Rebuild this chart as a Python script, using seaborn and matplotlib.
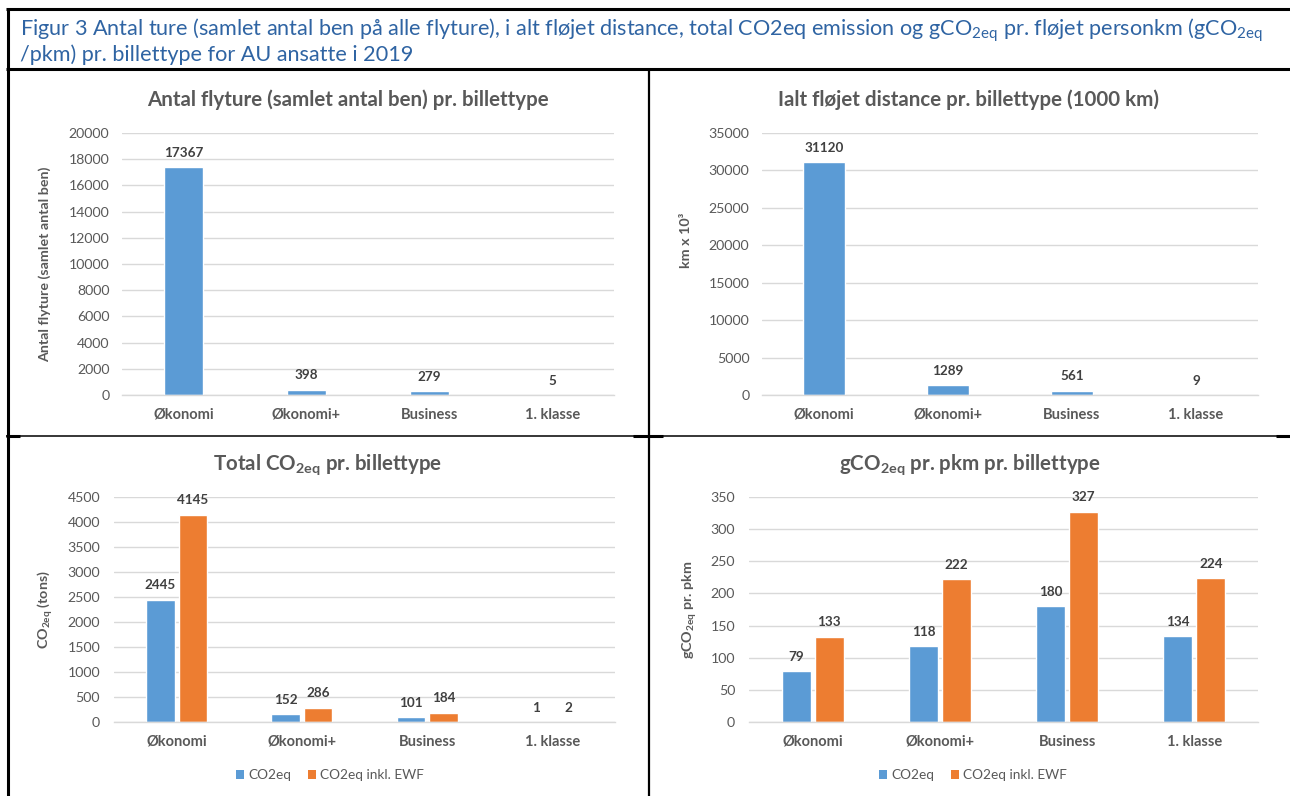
import matplotlib
matplotlib.use('Agg')
import matplotlib.pyplot as plt
import seaborn as sns
import pandas as pd
from matplotlib.lines import Line2D
from matplotlib.patches import Patch

# ---------------- data ----------------
categories = ['Økonomi', 'Økonomi+', 'Business', '1. klasse']
trips = [17367, 398, 279, 5]
distance = [31120, 1289, 561, 9]
co2_total = [2445, 152, 101, 1]
co2_total_ewf = [4145, 286, 184, 2]
g_per_pkm = [79, 118, 180, 134]
g_per_pkm_ewf = [133, 222, 327, 224]
series_names = ['CO2eq', 'CO2eq inkl. EWF']

BLUE = '#5B9BD5'
ORANGE = '#ED7D31'
GRID = '#D9D9D9'
TXT = '#595959'
LBL = '#404040'
CAP = '#2F64A3'

sns.set_theme(style='white')
FONT = 'Lato'
plt.rcParams['font.family'] = [FONT, 'DejaVu Sans']
plt.rcParams['mathtext.fontset'] = 'custom'
plt.rcParams['mathtext.rm'] = FONT
plt.rcParams['mathtext.it'] = FONT + ':italic'
plt.rcParams['mathtext.bf'] = FONT + ':bold'

W, H = 1290, 796
fig = plt.figure(figsize=(W / 100, H / 100), dpi=100)
fig.patch.set_facecolor('white')


def rect(l, t, r, b):
    return [l / W, 1 - b / H, (r - l) / W, (b - t) / H]


def fx(x):
    return x / W


def fy(y):
    return 1 - y / H


def hline(x0, x1, y, lw):
    fig.add_artist(Line2D([fx(x0), fx(x1)], [fy(y), fy(y)], color='black', lw=lw,
                          transform=fig.transFigure, solid_capstyle='butt'))


def vline(x, y0, y1, lw):
    fig.add_artist(Line2D([fx(x), fx(x)], [fy(y0), fy(y1)], color='black', lw=lw,
                          transform=fig.transFigure, solid_capstyle='butt'))


# ---------------- frame lines ----------------
hline(6, W, 9, 2.2)
vline(7.5, 8, H, 2.2)
hline(6, W, 69, 2.2)
vline(648.5, 69, H, 1.6)
hline(6, W, 435.5, 1.1)
hline(633, 663, 435.5, 2.2)
hline(1276, W, 435.5, 2.2)
hline(6, 20, 435.5, 2.2)

# ---------------- caption ----------------
CAPSIZE = 15.6
fig.text(fx(20), fy(30), 'Figur 3 Antal ture (samlet antal ben på alle flyture), i alt fløjet distance, '
         'total CO2eq emission og gCO$_{\\mathrm{2eq}}$ pr. fløjet personkm (gCO$_{\\mathrm{2eq}}$',
         color=CAP, fontsize=CAPSIZE, ha='left', va='center')
fig.text(fx(20), fy(55), '/pkm) pr. billettype for AU ansatte i 2019',
         color=CAP, fontsize=CAPSIZE, ha='left', va='center')

TITLESIZE = 14.8
YLSIZE = 10.3


def style_axes(ax, ymax, step, tickpad):
    ax.set_ylim(0, ymax)
    ax.set_yticks(range(0, ymax + 1, step))
    ax.set_xlim(-0.5, 3.5)
    ax.set_axisbelow(True)
    ax.grid(axis='y', color=GRID, lw=1)
    ax.grid(axis='x', visible=False)
    for s in ['left', 'right', 'top']:
        ax.spines[s].set_visible(False)
    ax.spines['bottom'].set_color(GRID)
    ax.spines['bottom'].set_linewidth(1)
    ax.tick_params(axis='y', length=0, pad=tickpad, labelsize=10.2, labelcolor=TXT)
    ax.tick_params(axis='x', length=0, pad=9, labelsize=10.5)
    for t in ax.get_xticklabels():
        t.set_fontweight('bold')
        t.set_color(TXT)
    ax.set_xlabel('')
    ax.set_ylabel('')
    ax.set_facecolor('none')


def label_bars(ax):
    for c in ax.containers:
        ax.bar_label(c, fmt='%d', padding=6, fontsize=9.7, fontweight='bold', color=LBL)


# ---------------- panel 1 ----------------
df1 = pd.DataFrame({'cat': categories, 'val': trips})
ax1 = fig.add_axes(rect(122, 133, 614, 395))
sns.barplot(data=df1, x='cat', y='val', color=BLUE, saturation=1, width=0.32, ax=ax1)
style_axes(ax1, 20000, 2000, 9)
label_bars(ax1)
fig.text(fx(348), fy(100), 'Antal flyture (samlet antal ben) pr. billettype', ha='center', va='center',
         fontsize=TITLESIZE, fontweight='bold', color=TXT)
fig.text(fx(45), fy(264), 'Antal flyture (samlet antal ben)', rotation=90, ha='center', va='center',
         fontsize=YLSIZE, fontweight='bold', color=TXT)

# ---------------- panel 2 ----------------
df2 = pd.DataFrame({'cat': categories, 'val': distance})
ax2 = fig.add_axes(rect(762, 133, 1258, 395))
sns.barplot(data=df2, x='cat', y='val', color=BLUE, saturation=1, width=0.34, ax=ax2)
style_axes(ax2, 35000, 5000, 9)
label_bars(ax2)
fig.text(fx(968), fy(100), 'Ialt fløjet distance pr. billettype (1000 km)', ha='center', va='center',
         fontsize=TITLESIZE, fontweight='bold', color=TXT)
fig.text(fx(686), fy(240), 'km x 10³', rotation=90, ha='center', va='center',
         fontsize=YLSIZE, fontweight='bold', color=TXT)

# ---------------- panel 3 ----------------
df3 = pd.DataFrame({'cat': categories * 2,
                    'val': co2_total + co2_total_ewf,
                    'serie': [series_names[0]] * 4 + [series_names[1]] * 4})
ax3 = fig.add_axes(rect(114, 497, 615, 722))
sns.barplot(data=df3, x='cat', y='val', hue='serie', palette=[BLUE, ORANGE], saturation=1,
            width=0.52, gap=0.12, legend=False, ax=ax3)
style_axes(ax3, 4500, 500, 10)
label_bars(ax3)
fig.text(fx(328), fy(465), 'Total CO$_{\\mathbf{2eq}}$ pr. billettype', ha='center', va='center',
         fontsize=TITLESIZE, fontweight='bold', color=TXT)
fig.text(fx(45), fy(610), 'CO$_{\\mathbf{2eq}}$ (tons)', rotation=90, ha='center', va='center',
         fontsize=YLSIZE, fontweight='bold', color=TXT)

# ---------------- panel 4 ----------------
df4 = pd.DataFrame({'cat': categories * 2,
                    'val': g_per_pkm + g_per_pkm_ewf,
                    'serie': [series_names[0]] * 4 + [series_names[1]] * 4})
ax4 = fig.add_axes(rect(749, 497, 1258, 722))
sns.barplot(data=df4, x='cat', y='val', hue='serie', palette=[BLUE, ORANGE], saturation=1,
            width=0.52, gap=0.12, legend=False, ax=ax4)
style_axes(ax4, 350, 50, 10)
label_bars(ax4)
fig.text(fx(970), fy(465), 'gCO$_{\\mathbf{2eq}}$ pr. pkm pr. billettype', ha='center', va='center',
         fontsize=TITLESIZE, fontweight='bold', color=TXT)
fig.text(fx(690), fy(610), 'gCO$_{\\mathbf{2eq}}$ pr. pkm', rotation=90, ha='center', va='center',
         fontsize=YLSIZE, fontweight='bold', color=TXT)

# ---------------- legends ----------------
handles = [Patch(facecolor=BLUE, edgecolor='none'), Patch(facecolor=ORANGE, edgecolor='none')]
for cx in (330, 973):
    leg = fig.legend(handles, series_names, loc='center', bbox_to_anchor=(fx(cx), fy(775)),
                     ncol=2, frameon=False, fontsize=9.8, handlelength=0.6, handleheight=0.6,
                     handletextpad=0.3, columnspacing=1.2, labelcolor=TXT)

fig.savefig('out.png', dpi=100)
